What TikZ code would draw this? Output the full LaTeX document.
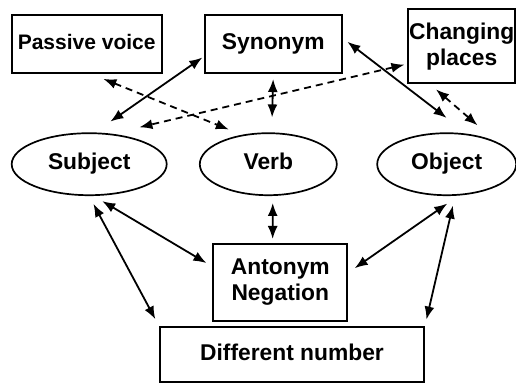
\documentclass[tikz,border=0pt]{standalone}
\usepackage{fontspec}
\setmainfont{Liberation Sans}
\usetikzlibrary{arrows.meta,shapes.geometric}

\begin{document}
\begin{tikzpicture}[
  x=1pt, y=-1pt,
  font=\bfseries\fontsize{22.8}{26}\selectfont,
  piece/.style={draw, line width=1.7pt, inner sep=0pt, align=center},
  oneline/.style={text height=16pt, text depth=5pt},
  word/.style={draw, ellipse, line width=1.7pt, inner sep=0pt, oneline,
               minimum width=#1, minimum height=62pt},
  link/.style={{Latex[length=13pt,width=10pt]}-{Latex[length=13pt,width=10pt]},
               line width=1.8pt},
  hint/.style={link, dash pattern=on 7pt off 5pt}
]
  \useasboundingbox (0,0) rectangle (516,383);

  % top row
  \node[piece, oneline, font=\bfseries\fontsize{21}{26}\selectfont,
        minimum width=150pt, minimum height=58pt] (passive) at (86.7,43.8) {Passive voice};
  \node[piece, oneline, minimum width=137pt, minimum height=58pt] (syn) at (273.3,44.2) {Synonym};
  \node[piece, minimum width=107pt, minimum height=74pt] (chg) at (461.7,46.3) {Changing\\places};

  % sentence parts
  \node[word=155pt] (subj) at (89.2,164.2) {Subject};
  \node[word=137pt] (verb) at (268.3,164.2) {Verb};
  \node[word=139pt] (obj) at (446.7,164.2) {Object};

  % bottom
  \node[piece, minimum width=134pt, minimum height=77pt] (ant) at (280.3,282.3) {Antonym\\Negation};
  \node[piece, oneline, minimum width=264pt, minimum height=55pt] (diff) at (292,354.7) {Different number};

  \draw[link, shorten <=19pt, shorten >=2pt] (subj.80) -- (syn.190);
  \draw[link, shorten <=5pt, shorten >=15pt] (syn.south) -- (verb.84);
  \draw[link, shorten <=6pt, shorten >=26pt] (syn.5) -- (obj.56);
  \draw[hint, shorten <=14pt, shorten >=14pt] (passive.277) -- (verb.132);
  \draw[hint, shorten <=3pt, shorten >=28pt] (chg.198) -- (subj.53);
  \draw[hint, shorten <=8pt, shorten >=25pt] (chg.230) -- (obj.north east);

  \draw[link, shorten <=10pt, shorten >=7pt] (subj.278) -- (ant.167);
  \draw[link, shorten <=9pt, shorten >=8pt] (subj.south) -- (diff.north west);
  \draw[link, shorten <=7pt, shorten >=4pt] (verb.278) -- (ant.101);
  \draw[link, shorten <=14pt, shorten >=8pt] (obj.291) -- (ant.8);
  \draw[link, shorten <=10pt, shorten >=7pt] (obj.285) -- (diff.north east);
\end{tikzpicture}
\end{document}
